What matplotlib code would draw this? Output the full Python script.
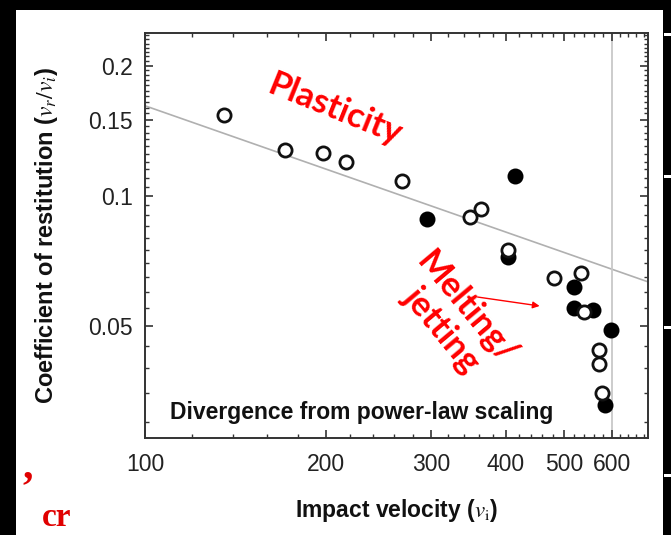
import numpy as np
import matplotlib
matplotlib.use("Agg")
import matplotlib.pyplot as plt
from matplotlib.ticker import FixedLocator, MultipleLocator, NullFormatter
from matplotlib.patches import Rectangle

# data
open_v = [135.6, 171, 198, 216, 268, 348, 363, 403, 481, 534, 540, 572, 572, 579]
open_e = [0.154, 0.1278, 0.1256, 0.120, 0.1083, 0.0894, 0.0933, 0.075, 0.0646,
          0.0663, 0.0539, 0.044, 0.0409, 0.035]
fill_v = [295, 414, 403, 520, 520, 559, 599, 586]
fill_e = [0.0885, 0.1113, 0.0722, 0.0616, 0.0551, 0.0545, 0.0490, 0.0328]
fit_v = [100, 690]
fit_e = [0.1615, 0.0632]
v_limit = 600

x_ticks = [100, 200, 300, 400, 500, 600]
y_ticks = [0.05, 0.1, 0.15, 0.2]
y_labels = ["0.05", "0.1", "0.15", "0.2"]

plt.rcParams['font.family'] = ['Liberation Sans', 'DejaVu Sans']
plt.rcParams['mathtext.fontset'] = 'stix'

fig = plt.figure(figsize=(6.71, 5.35), dpi=100, facecolor='black')
# white slide area behind the plot
fig.patches.append(Rectangle((16 / 671, 0), (663 - 16) / 671, 525 / 535,
                             transform=fig.transFigure, facecolor='white',
                             edgecolor='none', zorder=-10))
ax = fig.add_axes([145 / 671, 97 / 535, 503 / 671, 405 / 535])
ax.set_facecolor('white')

ax.set_xscale('log')
ax.set_yscale('log')
ax.set_xlim(100, 690)
ax.set_ylim(0.0275, 0.238)

ax.plot(fit_v, fit_e, color='#b0b0b0', lw=1.2, zorder=1)
ax.axvline(v_limit, color='#c8c8c8', lw=1.3, zorder=1)
ax.plot(fill_v, fill_e, 'o', ms=10, mfc='black', mec='black', mew=1.5, zorder=3)
ax.plot(open_v, open_e, 'o', ms=9.5, mfc='white', mec='#111111', mew=2.0, zorder=4)

ax.xaxis.set_major_locator(FixedLocator(x_ticks))
ax.xaxis.set_major_formatter(plt.FixedFormatter([str(t) for t in x_ticks]))
ax.xaxis.set_minor_locator(MultipleLocator(20))
ax.xaxis.set_minor_formatter(NullFormatter())
ax.yaxis.set_major_locator(FixedLocator(y_ticks))
ax.yaxis.set_major_formatter(plt.FixedFormatter(y_labels))
ax.yaxis.set_minor_locator(MultipleLocator(0.005))
ax.yaxis.set_minor_formatter(NullFormatter())

ax.tick_params(which='both', direction='in', top=True, right=True, color='#333333')
ax.tick_params(which='major', length=6, width=1.2, labelsize=16.5, labelcolor='#222222')
ax.tick_params(axis='x', which='major', pad=11)
ax.tick_params(axis='y', which='major', pad=9)
ax.tick_params(which='minor', length=3, width=1.0)
for s in ax.spines.values():
    s.set_color('#333333')
    s.set_linewidth(1.4)

ax.set_xlabel(r'Impact velocity ($v_\mathrm{i}$)', fontsize=16.5, fontweight='bold',
              labelpad=15, color='#111111')
ax.set_ylabel(r'Coefficient of restitution ($v_r/v_i$)', fontsize=17,
              fontweight='bold', labelpad=20, color='#111111')

ax.text(0.43, 0.064, 'Divergence from power-law scaling', transform=ax.transAxes,
        ha='center', va='center', fontsize=16.5, fontweight='bold', color='#111111')

ax.text(0.378, 0.81, 'Plasticity', transform=ax.transAxes, ha='center', va='center',
        rotation=-22, fontsize=25, fontweight='bold', color='red', family='Lato')
ax.text(0.615, 0.295, 'Melting/\njetting', transform=ax.transAxes, ha='center',
        va='center', rotation=-50, fontsize=25, fontweight='bold', color='red',
        family='Lato', linespacing=1.0)
ax.annotate('', xy=(0.79, 0.325), xytext=(0.656, 0.349), xycoords='axes fraction',
            arrowprops=dict(arrowstyle='-|>', color='red', lw=1.0, mutation_scale=10))

fig.text(0.03, 0.05, "\u2019", color='#e00000', fontsize=30, fontweight='bold',
         family='Liberation Serif', va='bottom', ha='left')
fig.text(0.062, 0.004, "cr", color='#e00000', fontsize=24, fontweight='bold',
         family='Liberation Serif', va='bottom', ha='left')

for yy in [34, 176, 327, 475]:
    fig.patches.append(Rectangle((664 / 671, 1 - (yy + 1.5) / 535), 7 / 671, 3 / 535,
                                 transform=fig.transFigure, facecolor='white',
                                 edgecolor='none'))

fig.savefig('out.png', dpi=100, facecolor=fig.get_facecolor())
